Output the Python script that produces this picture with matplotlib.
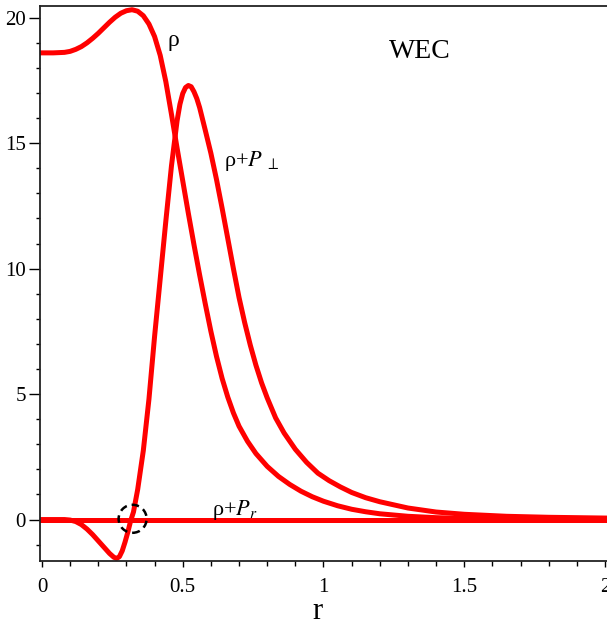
import matplotlib
matplotlib.use("Agg")
import matplotlib.pyplot as plt
from matplotlib.patches import Ellipse
from matplotlib.ticker import MultipleLocator

plt.rcParams['font.family'] = ['Liberation Serif', 'DejaVu Serif']
plt.rcParams['mathtext.fontset'] = 'stix'

# energy density rho
r_rho = [0.00, 0.04, 0.08, 0.10, 0.12, 0.14, 0.16, 0.18, 0.20, 0.22, 0.24,
         0.26, 0.28, 0.30, 0.32, 0.34, 0.36, 0.38, 0.40, 0.42, 0.44, 0.46,
         0.48, 0.50, 0.52, 0.54, 0.56, 0.58, 0.60, 0.62, 0.64, 0.66, 0.68,
         0.70, 0.73, 0.76, 0.80, 0.84, 0.88, 0.92, 0.96, 1.00, 1.05, 1.10,
         1.15, 1.20, 1.30, 1.40, 1.50, 1.65, 1.80, 2.00]
rho = [18.60, 18.60, 18.62, 18.66, 18.74, 18.85, 19.00, 19.18, 19.38, 19.60,
       19.82, 20.02, 20.18, 20.28, 20.32, 20.26, 20.08, 19.75, 19.25, 18.50,
       17.45, 16.15, 14.80, 13.50, 12.20, 10.95, 9.75, 8.60, 7.50, 6.50,
       5.62, 4.88, 4.25, 3.72, 3.12, 2.63, 2.12, 1.72, 1.40, 1.13, 0.91,
       0.73, 0.55, 0.41, 0.31, 0.23, 0.13, 0.075, 0.045, 0.025, 0.015, 0.008]

# rho + P_perp
r_pt = [0.00, 0.08, 0.10, 0.12, 0.14, 0.16, 0.18, 0.20, 0.22, 0.24, 0.255,
        0.265, 0.275, 0.285, 0.295, 0.305, 0.315, 0.325, 0.34, 0.36, 0.38,
        0.40, 0.42, 0.44, 0.46, 0.48, 0.49, 0.50, 0.51, 0.52, 0.53, 0.54,
        0.55, 0.56, 0.58, 0.60, 0.62, 0.64, 0.66, 0.68, 0.70, 0.72, 0.74,
        0.76, 0.78, 0.80, 0.83, 0.86, 0.90, 0.94, 0.98, 1.02, 1.06, 1.10,
        1.15, 1.20, 1.30, 1.40, 1.50, 1.65, 1.80, 2.00]
rho_pt = [0.00, 0.00, -0.02, -0.08, -0.20, -0.38, -0.60, -0.85, -1.10, -1.35,
          -1.50, -1.55, -1.48, -1.25, -0.90, -0.50, -0.05, 0.30, 1.20, 2.75,
          4.80, 7.30, 9.60, 11.90, 14.10, 15.90, 16.55, 16.98, 17.22, 17.30,
          17.25, 17.05, 16.78, 16.42, 15.52, 14.60, 13.55, 12.40, 11.20,
          10.00, 8.85, 7.85, 6.95, 6.15, 5.45, 4.85, 4.05, 3.45, 2.80, 2.28,
          1.85, 1.55, 1.30, 1.08, 0.87, 0.71, 0.46, 0.30, 0.21, 0.13, 0.09,
          0.06]

# rho + P_r
r_pr = [0.0, 2.0]
rho_pr = [0.0, 0.0]

red = '#ff0000'
fig = plt.figure(figsize=(6.07, 6.24), dpi=100)
ax = fig.add_axes([40/607, 1-560.7/624, 1-40/607, (560.7-5.7)/624])

ax.plot(r_rho, rho, color=red, lw=3.6, solid_joinstyle='round')
ax.plot(r_pt, rho_pt, color=red, lw=3.6, solid_joinstyle='round')
ax.plot(r_pr, rho_pr, color=red, lw=3.6)

# dashed marker around the crossing point
ax.add_patch(Ellipse((0.322, 0.03), 0.0995, 1.116, fill=False, ec='black',
                     lw=1.8, ls=(0, (3, 2)), zorder=5))

ax.set_xlim(-0.007, 2.007)
ax.set_ylim(-1.64, 20.48)
ax.spines['right'].set_visible(False)
for s in ['left', 'top', 'bottom']:
    ax.spines[s].set_linewidth(1.3)
    ax.spines[s].set_color('#222222')

ax.xaxis.set_major_locator(MultipleLocator(0.5))
ax.xaxis.set_minor_locator(MultipleLocator(0.1))
ax.yaxis.set_major_locator(MultipleLocator(5))
ax.yaxis.set_minor_locator(MultipleLocator(1))
ax.set_xticks([0, 0.5, 1, 1.5, 2])
ax.set_xticklabels(['0', '0.5', '1', '1.5', '2'])
ax.tick_params(axis='x', which='major', length=4.5, width=1, pad=8, labelsize=15)
ax.tick_params(axis='x', which='minor', length=3.5, width=1)
ax.tick_params(axis='y', which='major', length=8, width=1, pad=2, labelsize=15)
ax.tick_params(axis='y', which='minor', length=3, width=1)

ax.set_xlabel('r', fontsize=22, va='center')
ax.xaxis.set_label_coords(0.49, -0.092)

ax.text(0.465, 19.1, 'ρ', fontsize=17, ha='center', va='center')
ax.text(0.646, 14.09, r'ρ+$P_{\ \perp}$', fontsize=16, ha='left', va='baseline')
ax.text(0.603, 0.18, r'ρ+$P_r$', fontsize=16, ha='left', va='baseline')
ax.text(1.343, 18.67, 'WEC', fontsize=20, ha='center', va='center')

fig.savefig('out.png', dpi=100)
